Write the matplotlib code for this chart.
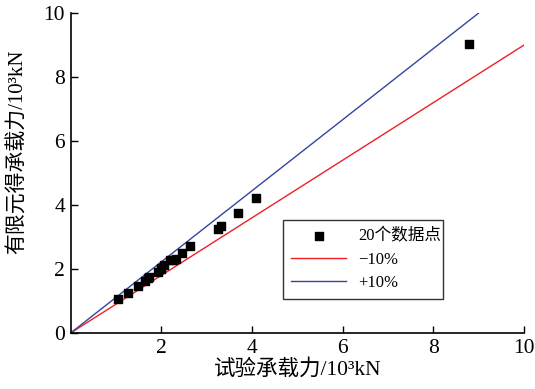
import numpy as np
import matplotlib.pyplot as plt

plt.rcParams['font.family'] = ['Liberation Serif', 'Noto Sans CJK SC']
plt.rcParams['axes.unicode_minus'] = False

# test vs FE bearing capacity (10^3 kN)
test_load = [1.04, 1.26, 1.48, 1.64, 1.70, 1.73, 1.93, 2.00, 1.99, 2.07,
             2.20, 2.26, 2.32, 2.45, 2.63, 3.26, 3.32, 3.70, 4.09, 8.79]
fe_load = [1.06, 1.26, 1.47, 1.64, 1.72, 1.76, 1.92, 2.00, 2.04, 2.13,
           2.27, 2.29, 2.32, 2.50, 2.71, 3.26, 3.36, 3.75, 4.22, 9.05]

minus_x = [0, 10]
minus_y = [0, 9]
plus_x = [0, 9]
plus_y = [0, 10]

fig = plt.figure(figsize=(5.35, 3.89), dpi=100)
ax = fig.add_axes([0.132, 0.144, 0.847, 0.822])

ax.scatter(test_load, fe_load, marker='s', s=32, color='black', zorder=3,
           label='20个数据点')
ax.plot(minus_x, minus_y, color='#ee2024', lw=1.0, label='−10%')
ax.plot(plus_x, plus_y, color='#34459e', lw=1.0, label='+10%')

ax.set_xlim(0, 10)
ax.set_ylim(0, 10)
ax.set_xticks([2, 4, 6, 8, 10])
ax.set_yticks([0, 2, 4, 6, 8, 10])
ax.tick_params(direction='in', length=5, width=1, labelsize=15.5, pad=4)
ax.spines['top'].set_visible(False)
ax.spines['right'].set_visible(False)
ax.spines['left'].set_linewidth(1.2)
ax.spines['bottom'].set_linewidth(1.2)

ax.set_xlabel('试验承载力/10³kN', fontsize=15.5, labelpad=1)
ax.set_ylabel('有限元得承载力/10³kN', fontsize=15)
ax.yaxis.set_label_coords(-0.094, 0.567)

leg = ax.legend(loc='lower left', bbox_to_anchor=(0.4687, 0.1066, 0.353, 0.238),
                mode='expand', borderaxespad=0, fontsize=12, frameon=True,
                fancybox=False, edgecolor='black', handlelength=3.3,
                borderpad=0.5, labelspacing=0.42, handletextpad=0.7)
leg.get_frame().set_linewidth(1.0)

fig.savefig('out.png', dpi=100)
